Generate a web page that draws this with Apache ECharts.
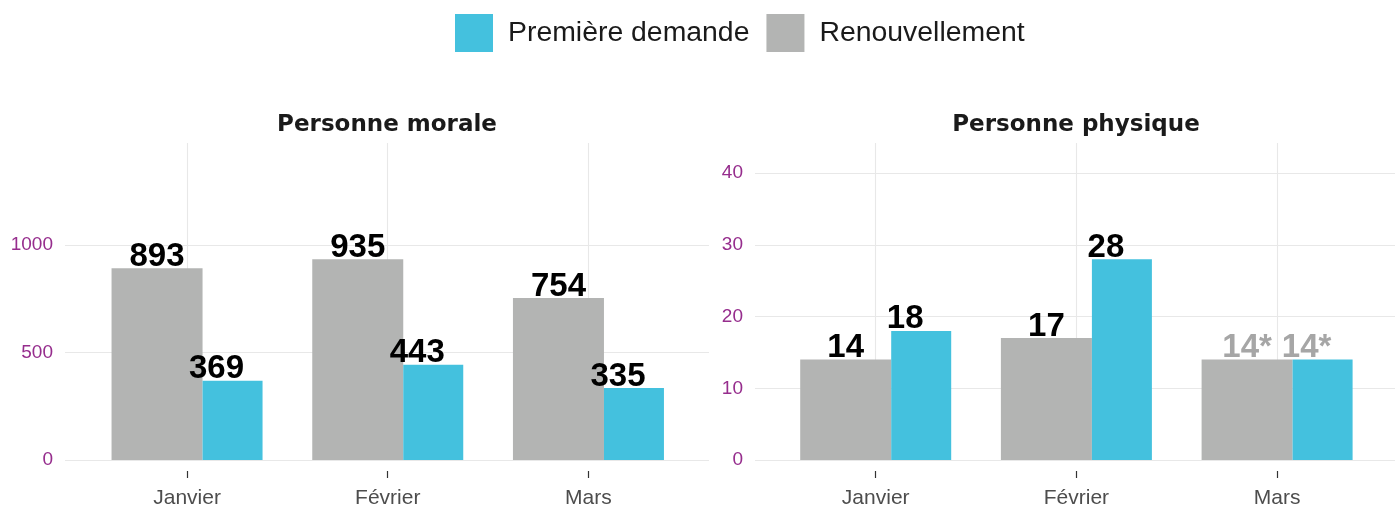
<!DOCTYPE html>
<html>
<head>
<meta charset="utf-8">
<title>Demandes par mois</title>
<script src="https://cdn.jsdelivr.net/npm/echarts@6/dist/echarts.min.js"></script>
<style>
    html, body { margin: 0; padding: 0; background: #ffffff; }
    #result { width: 1395px; height: 509px; }
</style>
</head>
<body>
<div id="result"></div>
<script>
// données
var mois = ['Janvier', 'Février', 'Mars'];
var moraleRenouvellement = [893, 935, 754];
var moralePremiere = [369, 443, 335];
var physiqueRenouvellement = [14, 17, 14];
var physiquePremiere = [18, 28, 14];
var physiqueEstime = [false, false, true]; // valeurs marquées d'une *

var couleurGris = '#b3b4b3';
var couleurBleu = '#44c1de';
var couleurGrille = '#e8e8e8';
var couleurAxeY = '#962d8d';

function make_data(values, estime){
    var result = [];
    for (var i = 0; i < values.length; i++){
        if (estime && estime[i]){
            result.push({
                value: values[i],
                label: {formatter: '{c}*', color: '#a6a6a6'}
            });
        } else {
            result.push(values[i]);
        }
    }
    return result;
}

function bar_series(name, values, estime, axisIndex, color, width, offset){
    return {
        name: name,
        type: 'bar',
        xAxisIndex: axisIndex,
        yAxisIndex: axisIndex,
        data: make_data(values, estime),
        barWidth: width,
        barGap: 0,
        z: 3,
        itemStyle: {color: color},
        label: {
            show: true,
            position: 'top',
            distance: -5,
            offset: offset,
            fontFamily: 'Liberation Sans',
            fontWeight: 'bold',
            fontSize: 33,
            color: '#000000'
        }
    };
}

// lignes verticales de la grille, derrière les barres
function grid_lines(axisIndex){
    return {
        type: 'line',
        xAxisIndex: axisIndex,
        yAxisIndex: axisIndex,
        data: [],
        z: 1,
        silent: true,
        markLine: {
            z: 1,
            silent: true,
            symbol: 'none',
            label: {show: false},
            lineStyle: {color: couleurGrille, width: 1.1, type: 'solid'},
            data: mois.map(function(m){ return {xAxis: m}; })
        }
    };
}

function value_axis(gridIndex, max, interval, visible){
    return {
        type: 'value',
        gridIndex: gridIndex,
        min: 0,
        max: max,
        interval: interval,
        show: visible,
        axisLine: {show: false},
        axisTick: {show: false},
        axisLabel: {
            show: visible,
            showMaxLabel: false,
            margin: 12,
            padding: [4, 0, 0, 0],
            fontFamily: 'Liberation Sans',
            fontSize: 19,
            color: couleurAxeY,
            formatter: function(v){ return String(v); }
        },
        splitLine: {
            show: visible,
            showMaxLine: false,
            lineStyle: {color: couleurGrille, width: 1.1}
        }
    };
}

function category_axis(gridIndex, visible){
    return {
        type: 'category',
        gridIndex: gridIndex,
        data: mois,
        show: visible,
        axisLine: {show: false},
        axisTick: {show: visible, alignWithLabel: true, length: 7, lineStyle: {color: '#333333', width: 1.2}},
        axisLabel: {show: visible, margin: 17, fontFamily: 'Liberation Sans', fontSize: 21, color: '#4d4d4d'},
        splitLine: {show: false}
    };
}

function hidden_axis(gridIndex){
    return {type: 'value', gridIndex: gridIndex, show: false, min: 0, max: 1};
}

function panel_title(text, x){
    return {
        text: text,
        left: x,
        top: 114,
        padding: 0,
        textAlign: 'center',
        textStyle: {fontFamily: 'DejaVu Sans', fontWeight: 'bold', fontSize: 23, color: '#1a1a1a'}
    };
}

var myChart = echarts.init(document.getElementById('result'));

var option = {
    animation: false,
    backgroundColor: '#ffffff',
    title: [
        panel_title('Personne morale', 387),
        panel_title('Personne physique', 1076)
    ],
    legend: {
        data: ['Première demande', 'Renouvellement'],
        left: 455,
        top: 14,
        padding: 0,
        icon: 'rect',
        itemWidth: 38,
        itemHeight: 38,
        itemGap: 17,
        textStyle: {fontFamily: 'Liberation Sans', fontSize: 28.4, color: '#1a1a1a', padding: [3, 0, 0, 10]}
    },
    grid: [
        {left: 65, right: 686, top: 143, bottom: 49},         // fond gauche
        {left: 86.7, right: 706.2, top: 143, bottom: 49},     // barres gauche
        {left: 755, right: 0, top: 143, bottom: 49},          // fond droite
        {left: 775.35, right: 17.55, top: 143, bottom: 49},   // barres droite
        {left: 86.7, right: 706.2, top: 143, bottom: 36},     // graduations gauche
        {left: 775.35, right: 17.55, top: 143, bottom: 36}    // graduations droite
    ],
    xAxis: [
        hidden_axis(0),
        category_axis(1, false),
        hidden_axis(2),
        category_axis(3, false),
        category_axis(4, true),
        category_axis(5, true)
    ],
    yAxis: [
        value_axis(0, 1476, 500, true),
        value_axis(1, 1476, 500, false),
        value_axis(2, 44.2, 10, true),
        value_axis(3, 44.2, 10, false),
        hidden_axis(4),
        hidden_axis(5)
    ],
    series: [
        grid_lines(1),
        grid_lines(3),
        bar_series('Renouvellement', moraleRenouvellement, null, 1, couleurGris, 91, [0, 0]),
        bar_series('Première demande', moralePremiere, null, 1, couleurBleu, 60, [-16, 0]),
        bar_series('Renouvellement', physiqueRenouvellement, physiqueEstime, 3, couleurGris, 91, [0, 0]),
        bar_series('Première demande', physiquePremiere, physiqueEstime, 3, couleurBleu, 60, [-16, 0])
    ]
};

myChart.setOption(option);
</script>
</body>
</html>
